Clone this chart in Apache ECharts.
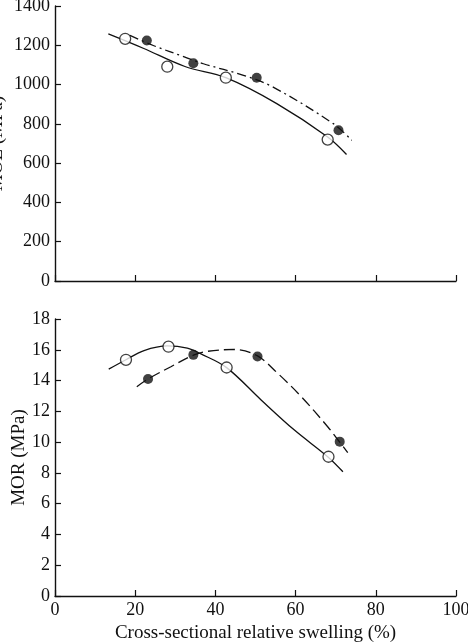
<!DOCTYPE html>
<html>
<head>
<meta charset="utf-8">
<script src="https://cdn.jsdelivr.net/npm/echarts@6/dist/echarts.min.js"></script>
<style>
html, body { margin: 0; padding: 0; background: #fff; }
#main { width: 468px; height: 644px; }
</style>
</head>
<body>
<div id="main"></div>
<script>
// MOE panel (top)
var moeOpen = [[17.5, 1233], [28, 1091], [42.6, 1035], [68, 720]];
var moeFilled = [[22.9, 1224], [34.5, 1109], [50.3, 1035], [70.7, 767]];
var moeOpenFit = [[13.3, 1258], [22, 1185], [32.4, 1092], [42.6, 1035], [55.3, 903], [68, 733], [72.7, 644]];
var moeFilledFit = [[18.7, 1250], [24.5, 1199], [32.4, 1140], [37, 1106], [47, 1047], [54.4, 987], [69.4, 801], [74, 716]];

// MOR panel (bottom)
var morOpen = [[17.7, 15.35], [28.3, 16.2], [42.8, 14.85], [68.2, 9.05]];
var morFilled = [[23.2, 14.1], [34.5, 15.67], [50.5, 15.56], [71, 10.03]];
var morOpenFit = [[13.4, 14.74], [17.7, 15.35], [22.2, 15.95], [28, 16.25], [33, 16.1], [36.4, 15.73], [42.8, 14.84], [51.4, 12.74], [59.7, 10.78], [68, 9.05], [71.8, 8.07]];
var morFilledFit = [[20.4, 13.6], [23.2, 14.1], [28.9, 14.9], [34.7, 15.67], [38, 15.9], [44.7, 16.02], [50.5, 15.6], [55.5, 14.48], [61.4, 12.96], [68, 11.0], [70.8, 10.07], [73, 9.31]];

var font = "Liberation Serif";
var ink = "#111";

function plain(v) { return String(v); }

function xAxisFor(idx, showLabels) {
  return {
    type: "value", gridIndex: idx, min: 0, max: 100, interval: 20,
    axisLine: { lineStyle: { color: ink, width: 1.4 } },
    axisTick: { inside: true, length: 6, lineStyle: { color: ink, width: 1.2 } },
    axisLabel: { show: showLabels, color: ink, fontFamily: font, fontSize: 18, margin: 5, formatter: plain },
    splitLine: { show: false },
    name: showLabels ? "Cross-sectional relative swelling (%)" : "",
    nameLocation: "middle", nameGap: 28, nameMoveOverlap: false,
    nameTextStyle: { color: ink, fontFamily: font, fontSize: 19 }
  };
}

function yAxisFor(idx, max, interval, name, gap) {
  return {
    type: "value", gridIndex: idx, min: 0, max: max, interval: interval,
    axisLine: { show: true, lineStyle: { color: ink, width: 1.4 } },
    axisTick: { show: true, inside: true, length: 6, lineStyle: { color: ink, width: 1.2 } },
    axisLabel: { color: ink, fontFamily: font, fontSize: 18, margin: 5, formatter: plain },
    splitLine: { show: false },
    name: name, nameLocation: "middle", nameGap: gap, nameMoveOverlap: false,
    nameTextStyle: { color: ink, fontFamily: font, fontSize: 19 }
  };
}

function fit(idx, data, dashed) {
  return {
    type: "line", xAxisIndex: idx, yAxisIndex: idx, data: data,
    smooth: 0.35, symbol: "none", silent: true,
    lineStyle: { color: ink, width: 1.3, type: dashed || "solid" }
  };
}

function dots(idx, data, filled) {
  return {
    type: "scatter", xAxisIndex: idx, yAxisIndex: idx, data: data,
    symbol: "circle", symbolSize: filled ? 10 : 11, z: 5,
    itemStyle: filled ? { color: ink } : { color: "#fff", borderColor: ink, borderWidth: 1.3 }
  };
}

var chart = echarts.init(document.getElementById("main"));
chart.setOption({
  backgroundColor: "#fff",
  animation: false,
  grid: [
    { left: 55, top: 6, width: 401, height: 275, containLabel: false, outerBoundsMode: "none" },
    { left: 55, top: 319, width: 401, height: 277, containLabel: false, outerBoundsMode: "none" }
  ],
  xAxis: [xAxisFor(0, false), xAxisFor(1, true)],
  yAxis: [
    yAxisFor(0, 1400, 200, "MOE (MPa)", 48),
    yAxisFor(1, 18, 2, "MOR (MPa)", 26)
  ],
  series: [
    fit(0, moeOpenFit),
    fit(0, moeFilledFit, [9, 4, 2, 4]),
    dots(0, moeOpen, false),
    dots(0, moeFilled, true),
    fit(1, morOpenFit),
    fit(1, morFilledFit, [11, 5]),
    dots(1, morOpen, false),
    dots(1, morFilled, true)
  ]
});
</script>
</body>
</html>
